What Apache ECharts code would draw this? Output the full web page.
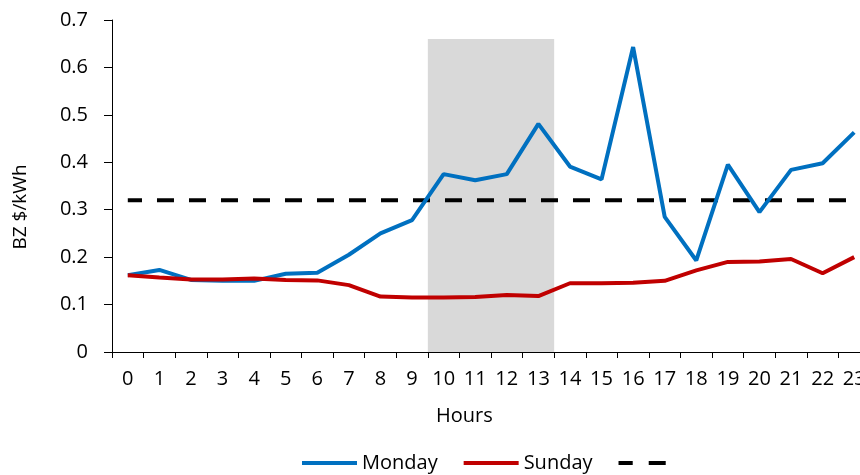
<!DOCTYPE html>
<html>
<head>
<meta charset="utf-8">
<script src="https://cdn.jsdelivr.net/npm/echarts@6/dist/echarts.min.js"></script>
<style>
html,body{margin:0;padding:0;background:#fff;overflow:hidden;width:860px;height:475px;}
#chart{width:870px;height:475px;}
</style>
</head>
<body>
<div id="chart"></div>
<script>
const hours = ['0','1','2','3','4','5','6','7','8','9','10','11','12','13','14','15','16','17','18','19','20','21','22','23'];
const monday = [0.162,0.173,0.152,0.150,0.150,0.165,0.167,0.205,0.250,0.278,0.375,0.362,0.375,0.481,0.391,0.364,0.643,0.285,0.193,0.395,0.295,0.384,0.398,0.463];
const sunday = [0.162,0.157,0.153,0.153,0.155,0.152,0.151,0.141,0.117,0.115,0.115,0.116,0.120,0.118,0.145,0.145,0.146,0.150,0.172,0.190,0.191,0.196,0.166,0.200];
const threshold = [0.32,0.32,0.32,0.32,0.32,0.32,0.32,0.32,0.32,0.32,0.32,0.32,0.32,0.32,0.32,0.32,0.32,0.32,0.32,0.32,0.32,0.32,0.32,0.32];
const shadeFromHour = 10;   // shaded period starts at hour 10
const shadeToHour = 14;     // ... and ends at the start of hour 14
const shadeTop = 0.66;
const yTicks = {min:0, max:0.7, interval:0.1};

const FONT = 'Open Sans';
const chart = echarts.init(document.getElementById('chart'), null, {renderer:'canvas'});
chart.setOption({
  animation:false,
  textStyle:{fontFamily:FONT, color:'#000'},
  grid:{left:112, top:20, right:0, bottom:123, containLabel:false},
  xAxis:[{
    type:'category', data:hours, boundaryGap:true,
    axisLine:{lineStyle:{color:'#000', width:1}},
    axisTick:{show:true, interval:0, length:6, lineStyle:{color:'#000'}},
    axisLabel:{interval:0, fontSize:20, color:'#000', margin:17, fontFamily:FONT},
    splitLine:{show:false}, z:5
  },{
    type:'value', min:0, max:hours.length, show:false
  }],
  yAxis:{
    type:'value', min:yTicks.min, max:yTicks.max, interval:yTicks.interval,
    axisLine:{show:true, lineStyle:{color:'#000', width:1}},
    axisTick:{show:true, length:8, lineStyle:{color:'#000'}},
    axisLabel:{fontSize:20, color:'#000', margin:24, fontFamily:FONT},
    splitLine:{show:false}, z:5
  },
  legend:{
    data:[
      {name:'Monday', itemStyle:{opacity:0}, lineStyle:{width:4}},
      {name:'Sunday', itemStyle:{opacity:0}, lineStyle:{width:4}},
      {name:' ', itemStyle:{opacity:0}, lineStyle:{type:[17,16], width:4, color:'#000'}}
    ],
    left:300, top:453, padding:0,
    itemWidth:55, itemHeight:14, itemGap:24,
    textStyle:{fontSize:20, color:'#000', fontFamily:FONT}
  },
  graphic:[
    {type:'text', left:436, top:406, style:{text:'Hours', font:'20px "Open Sans"', fill:'#000'}},
    {type:'text', x:21, y:207, rotation:Math.PI/2, style:{text:'BZ $/kWh', fontSize:19, fontFamily:FONT, fill:'#000', align:'center', verticalAlign:'middle'}}
  ],
  series:[
    {type:'line', name:'peak', xAxisIndex:1, data:[[shadeFromHour, shadeTop],[shadeToHour, shadeTop]], symbol:'none',
     lineStyle:{width:0, opacity:0}, areaStyle:{color:'#d9d9d9', opacity:1}, z:1, silent:true},
    {type:'line', name:'Monday', data:monday, symbol:'none', lineStyle:{color:'#0070C0', width:4}, itemStyle:{color:'#0070C0'}, z:3},
    {type:'line', name:'Sunday', data:sunday, symbol:'none', lineStyle:{color:'#C00000', width:4}, itemStyle:{color:'#C00000'}, z:4},
    {type:'line', name:' ', data:threshold, symbol:'none', lineStyle:{color:'#000', width:4, type:[17,15], dashOffset:2.8}, itemStyle:{color:'#000'}, z:2}
  ]
});
</script>
</body>
</html>
